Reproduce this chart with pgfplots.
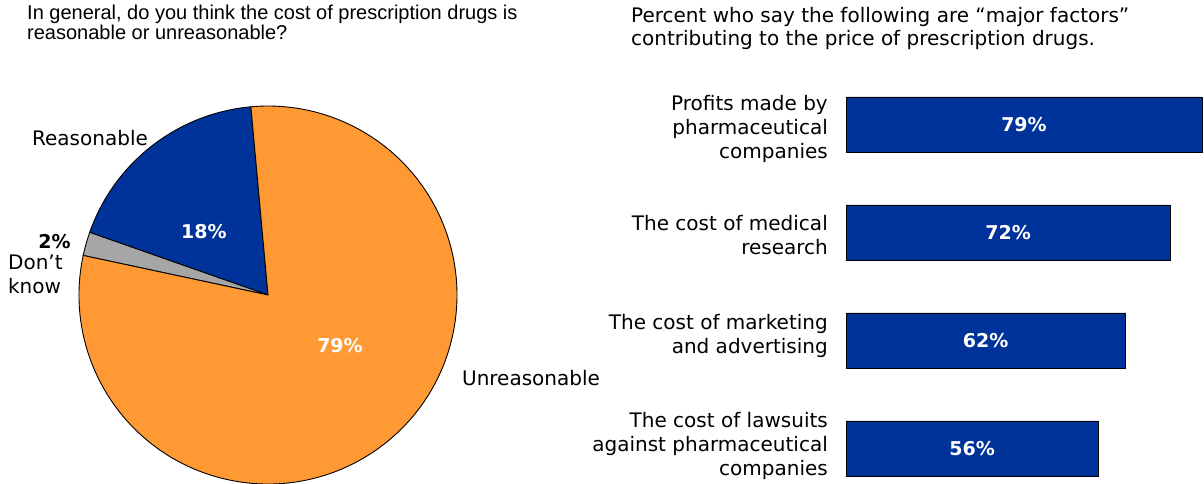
\documentclass[border=0pt]{standalone}
\usepackage{pgfplots}
\pgfplotsset{compat=1.18}
\usepackage{pgfplotstable}
\usepackage{fontspec}
\setmainfont{DejaVu Sans}
\newfontfamily\titlefont{Liberation Sans}
\definecolor{pieblue}{HTML}{003399}
\definecolor{pieorange}{HTML}{FF9933}
\definecolor{piegray}{HTML}{A6A6A6}
\definecolor{barblue}{HTML}{003399}

\pgfplotstableread{
y v
3 79
2 72
1 62
0 56
}\bardata

\def\pReas{18}
\def\pDK{2}
\def\pUnr{79}
\pgfmathsetmacro{\tot}{\pReas+\pDK+\pUnr}
\pgfmathsetmacro{\aA}{95.2}
\pgfmathsetmacro{\aB}{\aA+\pReas/\tot*360}
\pgfmathsetmacro{\aC}{\aB+\pDK/\tot*360}
\pgfmathsetmacro{\aD}{\aC+\pUnr/\tot*360}

\newcommand{\lab}{\fontsize{20}{24}\selectfont}
\newcommand{\pct}{\fontsize{19}{22}\selectfont\bfseries}

\begin{document}
\begin{tikzpicture}[x=1pt,y=1pt]
\useasboundingbox (0,0) rectangle (1204,484);
% titles
\node[anchor=base west, inner sep=0pt, font=\titlefont\fontsize{20}{20}\selectfont] at (27,464) {In general, do you think the cost of prescription drugs is};
\node[anchor=base west, inner sep=0pt, font=\titlefont\fontsize{20}{20}\selectfont] at (27,444) {reasonable or unreasonable?};
\node[anchor=base west, inner sep=0pt, font=\lab] at (631,461) {Percent who say the following are “major factors”};
\node[anchor=base west, inner sep=0pt, font=\lab] at (631,438) {contributing to the price of prescription drugs.};

% pie
\begin{axis}[at={(268pt,189pt)}, anchor=center, scale only axis,
  width=378pt, height=378pt, xmin=-1, xmax=1, ymin=-1, ymax=1,
  axis lines=none, clip=false]
\filldraw[fill=pieblue, draw=black, line width=0.9pt] (axis cs:0,0) -- ++(\aA:189pt) arc[start angle=\aA, end angle=\aB, radius=189pt] -- cycle;
\filldraw[fill=piegray, draw=black, line width=0.9pt] (axis cs:0,0) -- ++(\aB:189pt) arc[start angle=\aB, end angle=\aC, radius=189pt] -- cycle;
\filldraw[fill=pieorange, draw=black, line width=0.9pt] (axis cs:0,0) -- ++(\aC:189pt) arc[start angle=\aC, end angle=\aD, radius=189pt] -- cycle;
\node[font=\pct, text=white] at (axis cs:-0.339,0.335) {\pReas\%};
\node[font=\pct, text=white] at (axis cs:0.381,-0.270) {\pUnr\%};
\node[font=\pct, text=black] at (axis cs:-1.13,0.282) {\pDK\%};
\node[font=\lab, anchor=west, align=left, inner sep=0pt] at (axis cs:-1.376,0.111) {Don’t\\know};
\node[font=\lab, anchor=west, inner sep=0pt] at (axis cs:-1.249,0.831) {Reasonable};
\node[font=\lab, anchor=west, inner sep=0pt] at (axis cs:1.026,-0.439) {Unreasonable};
\end{axis}

% bars
\begin{axis}[at={(846pt,-18.5pt)}, anchor=south west, scale only axis,
  width=356pt, height=432pt, xmin=0, xmax=79, ymin=-0.5, ymax=3.5,
  hide x axis, axis y line*=left, y axis line style={draw=none},
  ytick={0.02,1.046,1.981,2.954}, major tick length=0pt,
  yticklabels={{The cost of lawsuits\\against pharmaceutical\\companies},
               {The cost of marketing\\and advertising},
               {The cost of medical\\research},
               {Profits made by\\pharmaceutical\\companies}},
  yticklabel style={align=right, font=\lab, anchor=east, inner sep=0pt, xshift=-18pt},
  /pgf/number format/assume math mode=true,
  clip=false]
\addplot[xbar, bar width=55pt, bar shift=0pt, fill=barblue, draw=black, line width=0.9pt] table[x=v, y=y] {\bardata};
\addplot[draw=none, mark=none, point meta=\thisrow{v},
  nodes near coords={\pgfmathprintnumber{\pgfplotspointmeta}\%},
  every node near coord/.append style={anchor=center, font=\pct, text=white}]
  table[x expr=\thisrow{v}/2, y=y] {\bardata};
\end{axis}
\end{tikzpicture}
\end{document}
